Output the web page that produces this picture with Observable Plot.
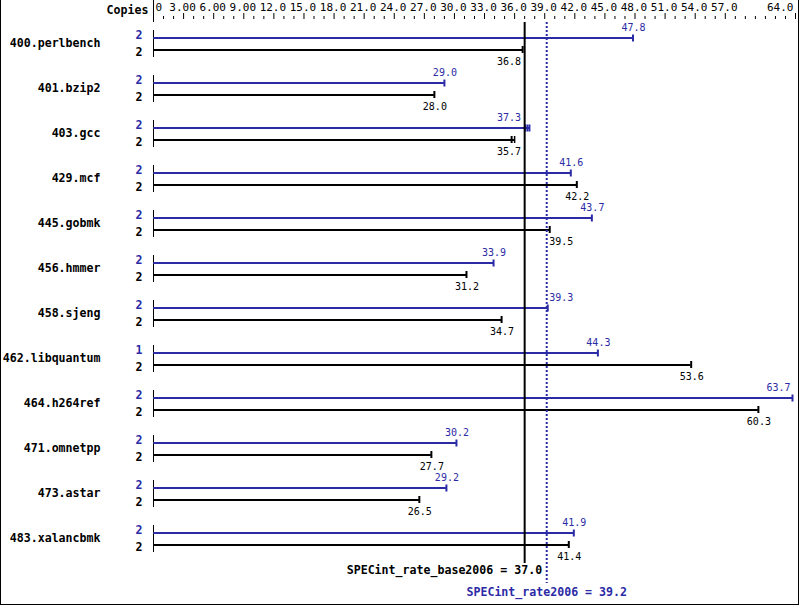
<!DOCTYPE html>
<html><head><meta charset="utf-8">
<script src="https://cdn.jsdelivr.net/npm/d3@7"></script>
<script src="https://cdn.jsdelivr.net/npm/@observablehq/plot@0.6"></script>
<style>
body{margin:0;background:#fff;}
#wrap{position:relative;width:799px;height:606px;overflow:hidden;}
#border{position:absolute;left:0;top:0;width:799px;height:605px;box-sizing:border-box;border:1px solid #000;border-top:none;pointer-events:none;}
</style></head><body>
<div id="wrap"><div id="chart"></div><div id="border"></div></div>
<script>
// ---- data ----
const benchmarks = ["400.perlbench","401.bzip2","403.gcc","429.mcf","445.gobmk","456.hmmer","458.sjeng","462.libquantum","464.h264ref","471.omnetpp","473.astar","483.xalancbmk"];
const peakCopies = [2,2,2,2,2,2,2,1,2,2,2,2];
const baseCopies = [2,2,2,2,2,2,2,2,2,2,2,2];
const peakRatios = [47.8,29.0,37.3,41.6,43.7,33.9,39.3,44.3,63.7,30.2,29.2,41.9];
const baseRatios = [36.8,28.0,35.7,42.2,39.5,31.2,34.7,53.6,60.3,27.7,26.5,41.4];
const gccPeakRuns = [37.1, 37.5];
const gccBaseRuns = [36.0];
const baseMean = 37.0;
const peakMean = 39.2;
const majorTicks = [0,3,6,9,12,15,18,21,24,27,30,33,36,39,42,45,48,51,54,57,64];
const majorTickLabels = ["0","3.00","6.00","9.00","12.0","15.0","18.0","21.0","24.0","27.0","30.0","33.0","36.0","39.0","42.0","45.0","48.0","51.0","54.0","57.0","64.0"];
const minorTicks = d3.range(0, 65).filter(v => !majorTicks.includes(v));

// ---- layout / style ----
const W = 799, H = 606;
const BLUE = "#2b2ba6";
const FONT = "DejaVu Sans Mono";
const ROW = 45, ROW0 = 44;
const py = p => (p - ROW0) / ROW;   // pixel -> row units
const off = p => p / ROW;           // pixel offset -> row units
const xDomain = [0, 64], xRange = [153, 795];
const xs = Plot.scale({x: {domain: xDomain, range: xRange}});

const rows = benchmarks.map((name, i) => {
  const pr = name === "403.gcc" ? gccPeakRuns : [];
  const br = name === "403.gcc" ? gccBaseRuns : [];
  return {i, name, peak: peakRatios[i], base: baseRatios[i], pc: peakCopies[i], bc: baseCopies[i],
    peakEnd: Math.max(peakRatios[i], ...pr), baseEnd: Math.max(baseRatios[i], ...br), pr, br};
});
const peakRunTicks = rows.flatMap(r => r.pr.map(v => ({i: r.i, v})));
const baseRunTicks = rows.flatMap(r => r.br.map(v => ({i: r.i, v})));

// value label placement avoiding the reference lines and the right edge
const refX = [xs.apply(baseMean) + 0.5, xs.apply(peakMean) + 0.5];
const CW = 6;
function place(v) {
  const t = v.toFixed(1), w = t.length * CW, c = xs.apply(v) + 0.5;
  const hit = (a, b) => refX.some(r => r > a - 2 && r < b + 2);
  if (c + w / 2 > W - 6) return {anchor: "end", px: c - 2.5};
  if (!hit(c - w / 2, c + w / 2)) return {anchor: "middle", px: c};
  for (const r of refX) {
    if (r > c - w / 2 - 2 && r < c + w / 2 + 2) {
      if (!hit(r - 4 - w, r - 4)) return {anchor: "end", px: r - 4};
      return {anchor: "start", px: r + 2};
    }
  }
  return {anchor: "middle", px: c};
}
const labels = [];
rows.forEach(r => {
  const a = place(r.peak);
  labels.push({y: r.i - off(17), x: xs.invert(a.px), anchor: a.anchor, text: r.peak.toFixed(1), color: BLUE});
  const b = place(r.base);
  labels.push({y: r.i + off(17), x: xs.invert(b.px), anchor: b.anchor, text: r.base.toFixed(1), color: "#000"});
});
const labelMarks = [];
for (const anchor of ["start", "middle", "end"]) {
  for (const color of [BLUE, "#000"]) {
    labelMarks.push(Plot.text(labels.filter(d => d.anchor === anchor && d.color === color),
      {x: "x", y: "y", text: "text", textAnchor: anchor, fill: color, fontSize: 10, lineAnchor: "middle"}));
  }
}

const tickLabelData = majorTicks.map((v, k) => ({v, t: majorTickLabels[k], k}));
const last = majorTicks.length - 1;
const TICKFS = 11;

const chart = Plot.plot({
  width: W,
  height: H,
  marginTop: 18, marginLeft: 0, marginRight: 0, marginBottom: 0,
  style: {fontFamily: FONT, background: "#fff", color: "#000"},
  x: {domain: xDomain, range: xRange},
  y: {domain: [0, 11], range: [44, 539], axis: null},
  marks: [
    // top axis ticks
    Plot.axisX(majorTicks, {anchor: "top", tickSize: 6, tickFormat: () => "", label: null}),
    Plot.axisX(minorTicks, {anchor: "top", tickSize: 3, tickFormat: () => "", label: null}),
    Plot.text(tickLabelData.filter(d => d.k === 0), {x: "v", text: "t", frameAnchor: "top", dy: -11, dx: 2, lineAnchor: "middle", textAnchor: "start", fontSize: TICKFS}),
    Plot.text(tickLabelData.filter(d => d.k > 0 && d.k < last), {x: "v", text: "t", frameAnchor: "top", dy: -11, dx: -1, lineAnchor: "middle", textAnchor: "middle", fontSize: TICKFS}),
    Plot.text(tickLabelData.filter(d => d.k === last), {x: "v", text: "t", frameAnchor: "top", dy: -11, dx: -2, lineAnchor: "middle", textAnchor: "end", fontSize: TICKFS}),
    Plot.text(["Copies"], {text: d => d, frameAnchor: "top-left", dx: 148, dy: -8, textAnchor: "end", lineAnchor: "middle", fontWeight: "bold", fontSize: 11.6}),
    Plot.ruleX([0], {x: d => d, y1: py(-2), y2: py(22), strokeWidth: 1}),
    // per-benchmark axis segments
    Plot.ruleX(rows, {x: () => 0, y1: d => d.i - off(14), y2: d => d.i + off(13), strokeWidth: 1}),
    // bars
    Plot.ruleY(rows, {y: "i", x1: () => 0, x2: "peakEnd", dy: -6.5, stroke: BLUE, strokeWidth: 2}),
    Plot.ruleY(rows, {y: "i", x1: () => 0, x2: "baseEnd", dy: 5.5, stroke: "#000", strokeWidth: 2}),
    // end caps
    Plot.ruleX(rows, {x: "peak", y1: d => d.i - off(9.5), y2: d => d.i - off(2.5), stroke: BLUE, strokeWidth: 2}),
    Plot.ruleX(rows, {x: "base", y1: d => d.i + off(2), y2: d => d.i + off(9), stroke: "#000", strokeWidth: 2}),
    Plot.ruleX(peakRunTicks, {x: "v", y1: d => d.i - off(9.5), y2: d => d.i - off(2.5), stroke: BLUE, strokeWidth: 1.5}),
    Plot.ruleX(baseRunTicks, {x: "v", y1: d => d.i + off(2), y2: d => d.i + off(9), stroke: "#000", strokeWidth: 1.5}),
    // benchmark names and copies
    Plot.text(rows, {y: "i", text: "name", frameAnchor: "left", dx: 100, dy: -1, textAnchor: "end", lineAnchor: "middle", fontWeight: "bold", fontSize: 11.6}),
    Plot.text(rows, {y: d => d.i - off(9), text: "pc", frameAnchor: "left", dx: 142, textAnchor: "end", lineAnchor: "middle", fontWeight: "bold", fontSize: 11.6, fill: BLUE}),
    Plot.text(rows, {y: d => d.i + off(8), text: "bc", frameAnchor: "left", dx: 142, textAnchor: "end", lineAnchor: "middle", fontWeight: "bold", fontSize: 11.6, fill: "#000"}),
    // reference lines
    Plot.ruleX([baseMean], {x: d => d, y1: py(22), y2: py(563), stroke: "#000", strokeWidth: 2}),
    Plot.ruleX([peakMean], {x: d => d, y1: py(22), y2: py(583), stroke: BLUE, strokeWidth: 2, strokeDasharray: "2,2"}),
    ...labelMarks,
    Plot.text([`SPECint_rate_base2006 = ${baseMean.toFixed(1)}`], {x: () => baseMean, y: () => py(570), text: d => d, dx: 17.5, textAnchor: "end", lineAnchor: "middle", fontWeight: "bold", fontSize: 11.6}),
    Plot.text([`SPECint_rate2006 = ${peakMean.toFixed(1)}`], {x: () => peakMean, y: () => py(592), text: d => d, textAnchor: "middle", lineAnchor: "middle", fontWeight: "bold", fontSize: 11.6, fill: BLUE})
  ]
});
document.getElementById("chart").appendChild(chart);
</script>
</body></html>
